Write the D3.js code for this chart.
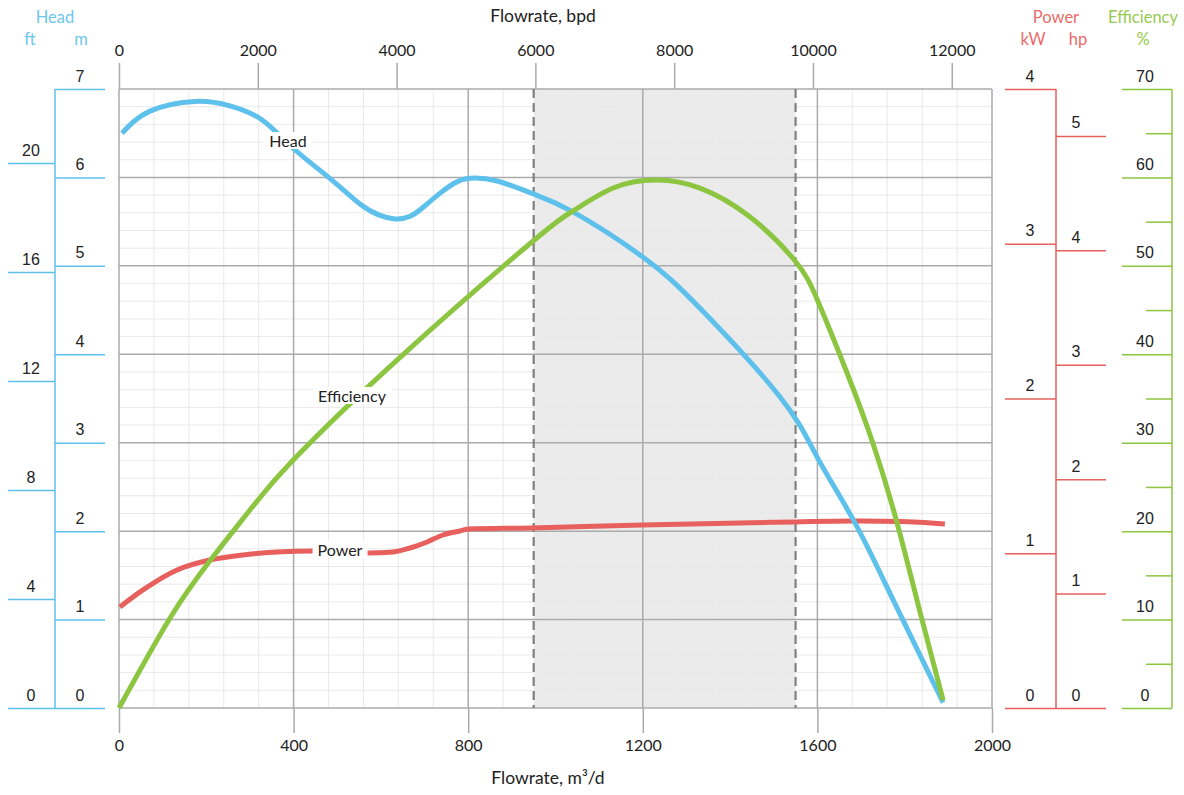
<!DOCTYPE html>
<html><head><meta charset="utf-8">
<script src="https://cdn.jsdelivr.net/npm/d3@7"></script>
<style>
body{margin:0;background:#fff;}
svg{display:block;font-family:Lato,"Open Sans",sans-serif;}
</style></head>
<body><svg id="c" width="1184" height="795"></svg>
<script>
// ---- data ----
const flowTicksM3 = [0, 400, 800, 1200, 1600, 2000];
const flowTicksBpd = [0, 2000, 4000, 6000, 8000, 10000, 12000];
const headTicksM = [0, 1, 2, 3, 4, 5, 6, 7];
const headTicksFt = [0, 4, 8, 12, 16, 20];
const powerTicksKW = [0, 1, 2, 3, 4];
const powerTicksHp = [0, 1, 2, 3, 4, 5];
const effTicks = [0, 10, 20, 30, 40, 50, 60, 70];
const effMinorTicks = [5, 15, 25, 35, 45, 55, 65];
const operatingRange = [950, 1550];
const bpdPerM3 = 6.29;
const ftMax = 22.72;   // ft at top of head axis (as drawn)
const hpMax = 5.41;    // hp at top of power axis (as drawn)

const headQ = [7, 71, 174, 254, 328, 399, 483, 552, 598, 632, 667, 701, 735, 770, 804, 866, 946, 1040, 1200, 1331, 1514, 1599, 1682, 1766, 1888];
const headM = [6.50, 6.75, 6.86, 6.81, 6.65, 6.33, 5.99, 5.70, 5.57, 5.53, 5.56, 5.68, 5.82, 5.94, 5.99, 5.96, 5.82, 5.61, 5.10, 4.52, 3.52, 2.84, 2.13, 1.30, 0.06];

const effQ = [0, 117, 208, 300, 399, 637, 946, 1040, 1132, 1232, 1331, 1446, 1549, 1601, 1668, 1727, 1782, 1835, 1888];
const effPct = [0, 10.18, 16.62, 22.39, 28.04, 39.35, 52.70, 56.20, 58.80, 59.71, 58.80, 55.52, 50.55, 46.03, 37.88, 29.97, 21.03, 10.86, 0.9];

const powQ = [2, 55, 133, 208, 284, 362, 444, 570, 628, 667, 706, 742, 781, 802, 942, 1200, 1549, 1675, 1789, 1892];
const powKW = [0.653, 0.763, 0.892, 0.956, 0.989, 1.008, 1.015, 1.002, 1.008, 1.034, 1.073, 1.118, 1.144, 1.157, 1.163, 1.183, 1.202, 1.208, 1.205, 1.189];

// ---- colors ----
const cHead = "#5ec1ec", cPow = "#e8605d", cEff = "#8cc540";
const cHeadTxt = "#6cc6ee", cPowTxt = "#ea6b68", cEffTxt = "#97c94f";

const svg = d3.select("#c");
const L = 119, R = 992, T = 89, B = 708;

const x = d3.scaleLinear([0, 2000], [L, R]);
const xb = d3.scaleLinear([0, 2000 * bpdPerM3], [L, R]);
const yM = d3.scaleLinear([0, 7], [B, T]);
const yFt = d3.scaleLinear([0, ftMax], [B, T]);
const yKW = d3.scaleLinear([0, 4], [B, T]);
const yHp = d3.scaleLinear([0, hpMax], [B, T]);
const yE = d3.scaleLinear([0, 70], [B, T]);

// operating range shade
svg.append("rect").attr("x", x(operatingRange[0])).attr("y", T)
  .attr("width", x(operatingRange[1]) - x(operatingRange[0])).attr("height", B - T)
  .attr("fill", "#ebebeb");

// minor grid
const minorX = d3.range(0, 2001, 80).filter(v => v % 400 !== 0);
const minorY = d3.range(0, 7.01, 0.2).map(v => +v.toFixed(1)).filter(v => Math.abs(v - Math.round(v)) > 1e-6);
const g = svg.append("g");
g.selectAll(".mx").data(minorX).join("line")
  .attr("x1", d => x(d)).attr("x2", d => x(d)).attr("y1", T).attr("y2", B)
  .attr("stroke", "#e9e9e9").attr("stroke-width", 1);
g.selectAll(".my").data(minorY).join("line")
  .attr("x1", L).attr("x2", R).attr("y1", d => yM(d)).attr("y2", d => yM(d))
  .attr("stroke", "#e9e9e9").attr("stroke-width", 1);
// major grid
g.selectAll(".Mx").data(flowTicksM3).join("line")
  .attr("x1", d => x(d)).attr("x2", d => x(d)).attr("y1", T).attr("y2", B)
  .attr("stroke", "#ababab").attr("stroke-width", 1.5);
g.selectAll(".My").data(headTicksM).join("line")
  .attr("x1", L).attr("x2", R).attr("y1", d => yM(d)).attr("y2", d => yM(d))
  .attr("stroke", "#ababab").attr("stroke-width", 1.5);

// dashed range lines
svg.selectAll(".dash").data(operatingRange).join("line")
  .attr("x1", d => x(d)).attr("x2", d => x(d)).attr("y1", T).attr("y2", B)
  .attr("stroke", "#808080").attr("stroke-width", 2.2).attr("stroke-dasharray", "9,5");

// bottom / top axes
const txtCol = "#222";
function styleAxis(sel, color, w) {
  sel.select(".domain").remove();
  sel.selectAll(".tick line").attr("stroke", color).attr("stroke-width", w);
  sel.selectAll(".tick text").attr("fill", txtCol).attr("font-size", 16).attr("font-family", "Lato, 'Open Sans', sans-serif");
}
const gb = svg.append("g").attr("transform", `translate(0,${B})`)
  .call(d3.axisBottom(x).tickValues(flowTicksM3).tickSize(25).tickPadding(7).tickFormat(d3.format("d")));
styleAxis(gb, "#ababab", 1.5);
const gt = svg.append("g").attr("transform", `translate(0,${T})`)
  .call(d3.axisTop(xb).tickValues(flowTicksBpd).tickSize(26).tickPadding(7).tickFormat(d3.format("d")));
styleAxis(gt, "#ababab", 1.5);

svg.append("text").attr("x", 548).attr("y", 784).attr("text-anchor", "middle")
  .attr("font-size", 17.5).attr("fill", txtCol).text("Flowrate, m³/d");
svg.append("text").attr("x", 543).attr("y", 22).attr("text-anchor", "middle")
  .attr("font-size", 17.5).attr("fill", txtCol).text("Flowrate, bpd");

// side axes helper: ticks drawn by d3 axis, labels moved above the tick line
function sideAxis(scale, ticks, xPos, size, color, labelX, orient) {
  const ax = (orient === "left" ? d3.axisLeft(scale) : d3.axisRight(scale))
    .tickValues(ticks).tickSize(size).tickFormat(d3.format("d"));
  const s = svg.append("g").attr("transform", `translate(${xPos},0)`).call(ax);
  s.select(".domain").remove();
  s.selectAll(".tick line").attr("stroke", color).attr("stroke-width", 1.5);
  s.selectAll(".tick text").attr("x", labelX - xPos).attr("dy", "-8").attr("text-anchor", "middle")
    .attr("fill", txtCol).attr("font-size", 16);
  return s;
}
// Head axes
sideAxis(yM, headTicksM, 105, 50, cHead, 80, "left");
sideAxis(yFt, headTicksFt, 55, 47, cHead, 31, "left");
svg.append("line").attr("x1", 55).attr("x2", 55).attr("y1", T).attr("y2", B).attr("stroke", cHead).attr("stroke-width", 1.5);
// Power axes
sideAxis(yKW, powerTicksKW, 1056, 51, cPow, 1030, "left");
sideAxis(yHp, powerTicksHp, 1056, 50, cPow, 1076, "right");
svg.append("line").attr("x1", 1056).attr("x2", 1056).attr("y1", T).attr("y2", B).attr("stroke", cPow).attr("stroke-width", 1.5);
// Efficiency axis
sideAxis(yE, effTicks, 1172, 50, cEff, 1145, "left");
const em = svg.append("g").attr("transform", "translate(1172,0)")
  .call(d3.axisLeft(yE).tickValues(effMinorTicks).tickSize(26).tickFormat(""));
em.select(".domain").remove();
em.selectAll(".tick line").attr("stroke", cEff).attr("stroke-width", 1.5);
svg.append("line").attr("x1", 1172).attr("x2", 1172).attr("y1", T).attr("y2", B).attr("stroke", cEff).attr("stroke-width", 1.5);

// headers
const hdr = [
  ["Head", 55, 23, cHeadTxt], ["ft", 30, 45, cHeadTxt], ["m", 81, 45, cHeadTxt],
  ["Power", 1056, 23, cPowTxt], ["kW", 1033, 45, cPowTxt], ["hp", 1078, 45, cPowTxt],
  ["Efficiency", 1143, 23, cEffTxt], ["%", 1143, 45, cEffTxt]
];
svg.selectAll(".hdr").data(hdr).join("text")
  .attr("x", d => d[1]).attr("y", d => d[2]).attr("text-anchor", "middle")
  .attr("font-size", 16.5).attr("fill", d => d[3]).text(d => d[0]);

// curves
function drawCurve(qs, vs, ys, color, curve) {
  const pts = qs.map((q, i) => [x(q), ys(vs[i])]);
  svg.append("path").attr("d", d3.line().curve(curve)(pts))
    .attr("fill", "none").attr("stroke", color).attr("stroke-width", 5).attr("stroke-linecap", "butt");
}
drawCurve(powQ, powKW, yKW, cPow, d3.curveMonotoneX);
drawCurve(headQ, headM, yM, cHead, d3.curveNatural);
drawCurve(effQ, effPct, yE, cEff, d3.curveNatural);

// curve labels with white background
const labels = [["Head", 288, 141], ["Efficiency", 352, 396], ["Power", 340, 550]];
labels.forEach(([t, cx, cy]) => {
  const tx = svg.append("text").attr("x", cx).attr("y", cy + 6).attr("text-anchor", "middle")
    .attr("font-size", 16).attr("fill", txtCol).text(t);
  const bb = tx.node().getBBox();
  svg.insert("rect", () => tx.node()).attr("x", bb.x - 5).attr("y", bb.y + 1)
    .attr("width", bb.width + 10).attr("height", bb.height - 2).attr("fill", "#fff");
});
</script></body></html>
